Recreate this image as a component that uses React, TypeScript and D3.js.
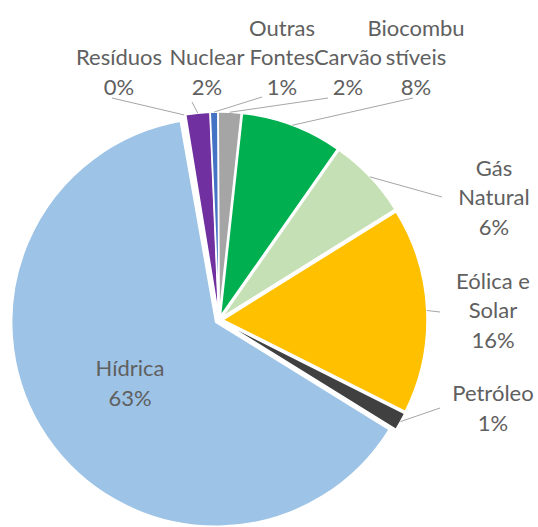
import React from 'react';
import * as d3 from 'd3';

// fontes de energia, em % (ordem horária a partir do topo)
const categories = ['Resíduos', 'Nuclear', 'Outras Fontes', 'Carvão', 'Biocombustíveis', 'Gás Natural', 'Eólica e Solar', 'Petróleo', 'Hídrica'];
const values = [0.2, 1.9, 0.6, 1.8, 8.0, 6.4, 16.3, 1.4, 63.4];
const colors = ['#ffffff', '#7030a0', '#4472c4', '#a5a5a5', '#00b050', '#c5e0b4', '#ffc000', '#404040', '#9dc3e6'];
// rótulos quebrados em linhas como no gráfico original
const labelLines = [
  ['Resíduos'],
  ['Nuclear'],
  ['Outras', 'Fontes'],
  ['Carvão'],
  ['Biocombu', 'stíveis'],
  ['Gás', 'Natural'],
  ['Eólica e', 'Solar'],
  ['Petróleo'],
  ['Hídrica'],
];

// layout
const width = 538;
const height = 527;
const cx = 219;
const cy = 320;
const radius = 204;
const explode = 4;
const lineH = 29.5;
// posição do rótulo: centro x, centro y da última linha (percentual)
const labelPos: [number, number][] = [
  [119, 87], [207, 87], [282, 87], [348, 87], [416, 87],
  [494, 227], [493, 340], [493, 423], [130, 398],
];
// ponta da linha guia junto ao rótulo (null = sem linha)
const leaderEnd: ([number, number] | null)[] = [
  [112, 98], [192, 102], [262, 97], [328, 98], [413, 98],
  [442, 197], [440, 312], [440, 408], null,
];

const App = () => {
  const total = d3.sum(values);
  const pie = d3.pie<number>().sort(null).startAngle((-10 * Math.PI) / 180).endAngle((350 * Math.PI) / 180);
  const arcs = pie(values);
  const arc = d3.arc<d3.PieArcDatum<number>>().innerRadius(0).outerRadius(radius);
  const fmt = (v: number) => `${Math.round((v / total) * 100)}%`;

  return (
    <svg width={width} height={height} style={{ position: 'absolute', left: 0, top: 0 }}>
      <rect width={width} height={height} fill="#fff" />
      <g transform={`translate(${cx},${cy})`}>
        {arcs.map((a, i) => {
          const mid = (a.startAngle + a.endAngle) / 2;
          const ox = explode * Math.sin(mid);
          const oy = -explode * Math.cos(mid);
          return (
            <path
              key={categories[i]}
              d={arc(a) || ''}
              transform={`translate(${ox},${oy})`}
              fill={colors[i]}
              stroke="#fff"
              strokeWidth={1.5}
            />
          );
        })}
      </g>
      {arcs.map((a, i) => {
        const end = leaderEnd[i];
        if (!end) return null;
        const mid = (a.startAngle + a.endAngle) / 2;
        const r = radius + explode;
        const x1 = cx + r * Math.sin(mid);
        const y1 = cy - r * Math.cos(mid);
        return <line key={'l' + i} x1={x1} y1={y1} x2={end[0]} y2={end[1]} stroke="#a6a6a6" strokeWidth={1} />;
      })}
      {categories.map((c, i) => {
        const lines = [...labelLines[i], fmt(values[i])];
        const [lx, ly] = labelPos[i];
        const y0 = ly - (lines.length - 1) * lineH;
        return (
          <text
            key={'t' + c}
            x={lx}
            textAnchor="middle"
            fontFamily="Lato, 'Open Sans', sans-serif"
            fontSize={22}
            fill="#606060"
          >
            {lines.map((s, j) => (
              <tspan key={j} x={lx} y={y0 + j * lineH} dy="0.35em">
                {s}
              </tspan>
            ))}
          </text>
        );
      })}
    </svg>
  );
};

export default App;
